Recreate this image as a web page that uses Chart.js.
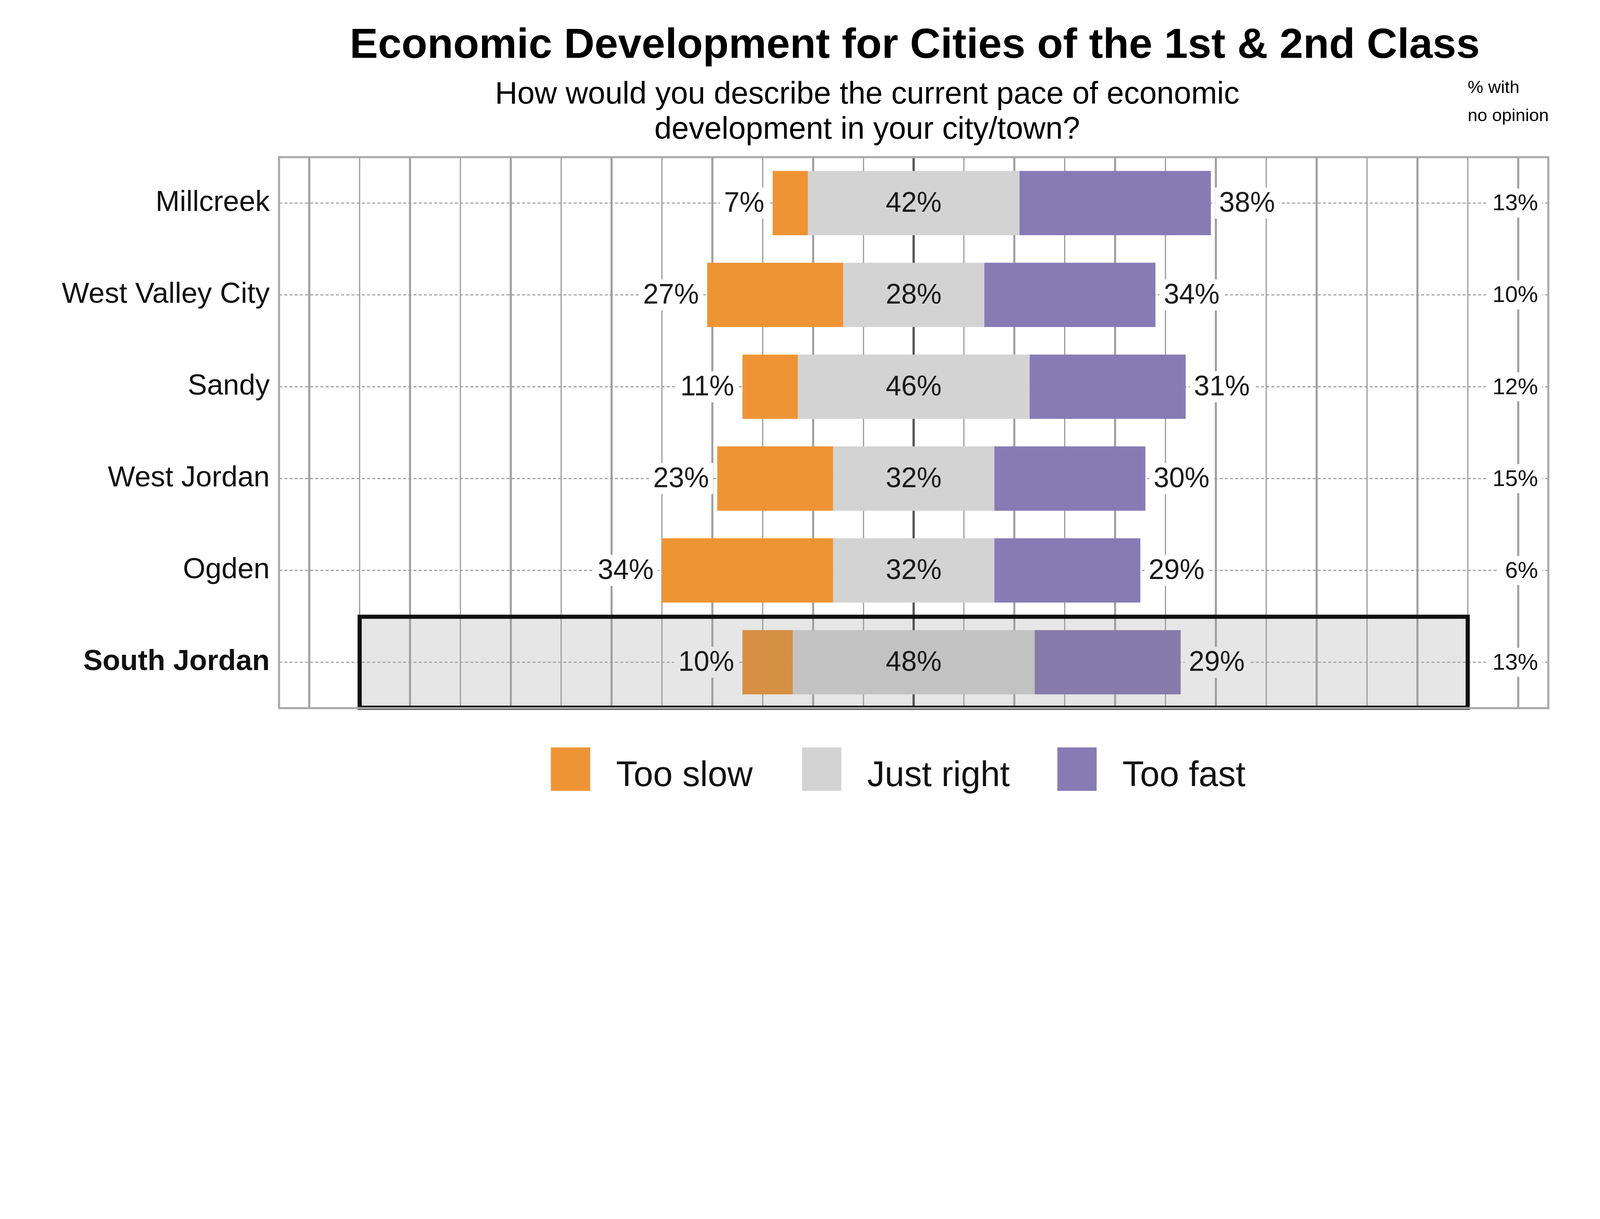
<!DOCTYPE html>
<html><head><meta charset="utf-8">
<script src="https://cdn.jsdelivr.net/npm/chart.js@4"></script>
<style>html,body{margin:0;padding:0;background:#fff;overflow:hidden}#wrap{width:100vw;height:100vh;position:relative}</style>
</head><body><div id="wrap"><canvas id="c"></canvas></div>
<script>
const categories = ["Millcreek","West Valley City","Sandy","West Jordan","Ogden","South Jordan"];
const tooSlow = [7,27,11,23,34,10];
const justRight = [42,28,46,32,32,48];
const tooFast = [38,34,31,30,29,29];
const noOpinion = [13,10,12,15,6,13];
const seriesNames = ["Too slow","Just right","Too fast"];
const gridTicks = [-120,-110,-100,-90,-80,-70,-60,-50,-40,-30,-20,-10,0,10,20,30,40,50,60,70,80,90,100,110,120];
const highlightIndex = 5;

const W = window.innerWidth, H = window.innerHeight;
const S = W/1548;
const FONT = "'Liberation Sans', Arial, sans-serif";
const col = {slow:"#ee9435", right:"#d3d3d3", fast:"#877bb6", slowH:"#d69043", rightH:"#c2c2c2", fastH:"#877bac"};

const slowData = categories.map((c,i)=>[-justRight[i]/2 - tooSlow[i], -justRight[i]/2]);
const rightData = categories.map((c,i)=>[-justRight[i]/2, justRight[i]/2]);
const fastData = categories.map((c,i)=>[justRight[i]/2, justRight[i]/2 + tooFast[i]]);

function labelBox(ctx, text, x, y, align, bg){
  ctx.font = `${27*S}px ${FONT}`;
  const w = ctx.measureText(text).width, h = 30*S, p = 4*S;
  let x0 = align==='left'? x : align==='right'? x-w : x-w/2;
  if(bg){ctx.fillStyle=bg; ctx.fillRect(x0-p, y-h/2, w+2*p, h);}
  ctx.fillStyle="#1a1a1a"; ctx.textAlign=align; ctx.textBaseline="middle";
  ctx.fillText(text, x, y+1*S);
}

const plugin = {
  id:'custom',
  beforeDraw(chart){
    const {ctx, scales:{x,y}} = chart;
    ctx.save();
    ctx.fillStyle="#fff"; ctx.fillRect(0,0,chart.width,chart.height);
    const yc = y.getPixelForValue(highlightIndex), half = 44*S;
    ctx.fillStyle="#e6e6e6";
    ctx.fillRect(x.getPixelForValue(-110), yc-half, x.getPixelForValue(110)-x.getPixelForValue(-110), 2*half);
    ctx.restore();
  },
  beforeDatasetsDraw(chart){
    const {ctx, chartArea:a, scales:{x,y}} = chart;
    ctx.save();
    ctx.strokeStyle="#999"; ctx.lineWidth=1*S; ctx.setLineDash([3*S,2*S]);
    categories.forEach((c,i)=>{const yy=y.getPixelForValue(i); ctx.beginPath(); ctx.moveTo(a.left,yy); ctx.lineTo(a.right,yy); ctx.stroke();});
    ctx.setLineDash([]);
    const yc = y.getPixelForValue(highlightIndex), half = 44*S;
    ctx.strokeStyle="#111"; ctx.lineWidth=4*S;
    ctx.strokeRect(x.getPixelForValue(-110), yc-half, x.getPixelForValue(110)-x.getPixelForValue(-110), 2*half);
    ctx.strokeStyle="#aaa"; ctx.lineWidth=2*S;
    ctx.strokeRect(a.left, a.top, a.right-a.left, a.bottom-a.top);
    ctx.restore();
  },
  afterDatasetsDraw(chart){
    const {ctx, scales:{x,y}} = chart;
    ctx.save();
    categories.forEach((c,i)=>{
      const yy = y.getPixelForValue(i);
      const bg = i===highlightIndex ? "#e6e6e6" : "#fff";
      labelBox(ctx, tooSlow[i]+"%", x.getPixelForValue(slowData[i][0]) - 8*S, yy, 'right', bg);
      labelBox(ctx, justRight[i]+"%", x.getPixelForValue(0), yy, 'center', null);
      labelBox(ctx, tooFast[i]+"%", x.getPixelForValue(fastData[i][1]) + 8*S, yy, 'left', bg);
      ctx.font = `${22*S}px ${FONT}`;
      const t = noOpinion[i]+"%", w = ctx.measureText(t).width;
      ctx.fillStyle="#fff"; ctx.fillRect(1488*S - w - 6*S, yy-14*S, w+10*S, 28*S);
      ctx.fillStyle="#111"; ctx.textAlign="right"; ctx.textBaseline="middle";
      ctx.fillText(t, 1488*S, yy+1*S);
    });
    ctx.fillStyle="#000"; ctx.textAlign="center"; ctx.textBaseline="alphabetic";
    ctx.font = `bold ${41*S}px ${FONT}`;
    ctx.fillText("Economic Development for Cities of the 1st & 2nd Class", 885*S, 56*S);
    ctx.font = `${30*S}px ${FONT}`;
    ctx.fillText("How would you describe the current pace of economic", 839*S, 100*S);
    ctx.fillText("development in your city/town?", 839*S, 134*S);
    ctx.textAlign="left"; ctx.font = `${17*S}px ${FONT}`;
    ctx.fillText("% with", 1420*S, 90*S);
    ctx.fillText("no opinion", 1420*S, 117*S);
    const items = [[seriesNames[0],col.slow,533],[seriesNames[1],col.right,776],[seriesNames[2],col.fast,1023]];
    ctx.font = `${34*S}px ${FONT}`; ctx.textBaseline="middle";
    items.forEach(([n,cl,lx])=>{
      ctx.fillStyle=cl; ctx.fillRect(lx*S, 723*S, 38*S, 42*S);
      ctx.fillStyle="#111"; ctx.fillText(n, (lx+63)*S, 751*S);
    });
    ctx.restore();
  }
};

const mk = (base, hi) => categories.map((c,i)=> i===highlightIndex ? hi : base);

new Chart(document.getElementById('c'), {
  type:'bar',
  data:{labels:categories, datasets:[
    {label:seriesNames[0], data:slowData, backgroundColor:mk(col.slow,col.slowH), borderWidth:0, borderSkipped:false},
    {label:seriesNames[1], data:rightData, backgroundColor:mk(col.right,col.rightH), borderWidth:0, borderSkipped:false},
    {label:seriesNames[2], data:fastData, backgroundColor:mk(col.fast,col.fastH), borderWidth:0, borderSkipped:false}
  ]},
  options:{
    indexAxis:'y', responsive:true, maintainAspectRatio:false, animation:false,
    layout:{padding:{left:0,right:W-1498*S,top:152*S,bottom:H-685*S}},
    plugins:{legend:{display:false}, tooltip:{enabled:false}},
    scales:{
      x:{type:'linear', min:-126, max:126, border:{display:false},
        afterBuildTicks(ax){ax.ticks = gridTicks.map(v=>({value:v}));},
        ticks:{display:false},
        grid:{drawTicks:false,
          color:c=> c.tick && c.tick.value===0 ? '#555' : '#a0a0a0',
          lineWidth:c=> c.tick && c.tick.value===0 ? 2.2*S : (c.tick && c.tick.value%20===0 ? 2*S : 1.2*S)}},
      y:{type:'category', stacked:true, offset:true, border:{display:false},
        afterFit(ax){ax.width = 270*S;},
        grid:{display:false},
        ticks:{color:'#111', padding:6*S, font:c=>({family:FONT, size:28*S, weight: c.index===highlightIndex?'bold':'normal'})}}
    },
    datasets:{bar:{barPercentage:0.7, categoryPercentage:1.0, grouped:false}}
  },
  plugins:[plugin]
});
</script></body></html>
